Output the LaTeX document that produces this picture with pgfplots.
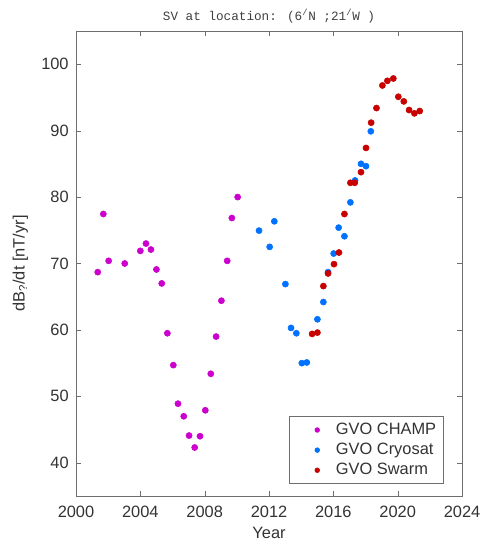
\documentclass[border=0pt]{standalone}
\usepackage{fontspec}
\setmainfont{Liberation Sans}
\newfontfamily\titlefont{Liberation Mono}
\usepackage{pgfplots}
\pgfplotsset{compat=1.18}
\definecolor{champ}{RGB}{204,0,204}
\definecolor{cryo}{RGB}{0,114,255}
\definecolor{swarm}{RGB}{200,0,0}
\definecolor{axgray}{RGB}{110,110,110}
\begin{document}
\begin{tikzpicture}
\begin{axis}[
    scale only axis,
    width=289.5pt, height=348.75pt,
    xmin=2000, xmax=2024,
    ymin=35, ymax=105,
    xtick={2000,2004,...,2024},
    ytick={40,50,...,100},
    tick align=inside,
    major tick length=4pt,
    axis line style={axgray},
    tick style={axgray},
    /pgf/number format/assume math mode=true,
    /pgf/number format/1000 sep={},
    tick label style={font=\fontsize{12.3}{14}\selectfont, text=black!80},
    xticklabel style={yshift=-4pt},
    yticklabel style={xshift=-2pt},
    label style={font=\fontsize{12.3}{14}\selectfont, text=black!80},
    xlabel={Year},
    ylabel={dB\textsubscript{?}/dt [nT/yr]},
    xlabel style={yshift=0pt},
    ylabel style={yshift=3pt},
    title={\titlefont SV at location: (6\textsuperscript{/}N ;21\textsuperscript{/}W )},
    title style={font=\fontsize{9.5}{11}\selectfont, yshift=-4pt, text=black!75},
    legend style={at={(0.951,0.026)}, anchor=south east, draw=axgray,
        font=\fontsize{12.3}{14}\selectfont, text=black!80,
        inner xsep=3pt, inner ysep=3pt, row sep=1pt},
    legend cell align=left,
    legend image code/.code={\path[draw=none] (0pt,0pt) -- (30pt,0pt); \fill (18pt,0pt) circle (1.8pt);},
]
\addplot[only marks, mark=*, mark size=2.3pt, color=champ] coordinates {
    (2001.35,68.7) (2001.70,77.45) (2002.03,70.4) (2003.03,70.0)
    (2004.00,71.9) (2004.35,73.0) (2004.66,72.1) (2005.00,69.1)
    (2005.33,67.0) (2005.68,59.5) (2006.05,54.7) (2006.34,48.9)
    (2006.70,47.0) (2007.03,44.1) (2007.38,42.3) (2007.71,44.0)
    (2008.04,47.9) (2008.38,53.4) (2008.71,59.0) (2009.04,64.4)
    (2009.40,70.4) (2009.69,76.85) (2010.05,80.0)
};
\addlegendentry{GVO CHAMP}
\addplot[only marks, mark=*, mark size=2.3pt, color=cryo] coordinates {
    (2011.38,74.95) (2012.04,72.5) (2012.33,76.35) (2013.02,66.9)
    (2013.37,60.3) (2013.70,59.5) (2014.04,55.0) (2014.35,55.1)
    (2015.01,61.6) (2015.38,64.2) (2015.67,68.7) (2016.02,71.5)
    (2016.33,75.4) (2016.69,74.1) (2017.06,79.2) (2017.35,82.5)
    (2017.72,85.0) (2018.03,84.65) (2018.33,89.9)
};
\addlegendentry{GVO Cryosat}
\addplot[only marks, mark=*, mark size=2.3pt, color=swarm] coordinates {
    (2014.68,59.4) (2015.01,59.6) (2015.38,66.6) (2015.67,68.5)
    (2016.04,69.9) (2016.35,71.65) (2016.69,77.45) (2017.06,82.15)
    (2017.33,82.15) (2017.72,83.75) (2018.03,87.4) (2018.35,91.2)
    (2018.68,93.4) (2019.05,96.8) (2019.36,97.5) (2019.73,97.85)
    (2020.04,95.1) (2020.38,94.4) (2020.71,93.1) (2021.04,92.6)
    (2021.37,92.95)
};
\addlegendentry{GVO Swarm}
\end{axis}
\pgfresetboundingbox
\path[use as bounding box] ([shift={(-57pt,-36.75pt)}]current axis.south west)
    rectangle ([shift={(15pt,23.25pt)}]current axis.north east);
\end{tikzpicture}
\end{document}
